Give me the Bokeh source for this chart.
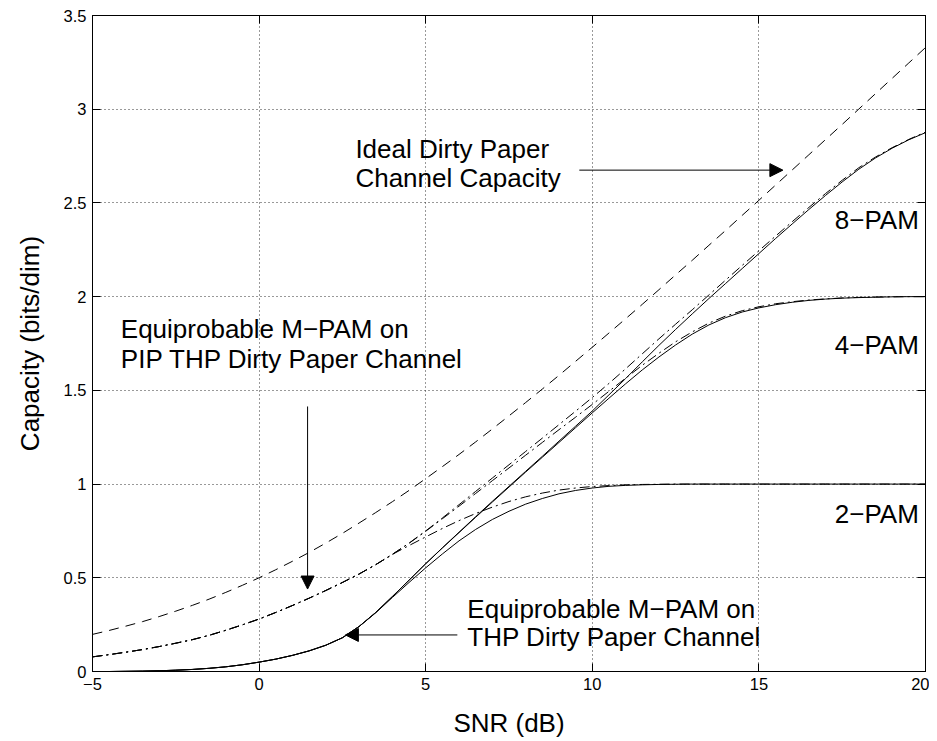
from bokeh.plotting import figure
from bokeh.models import LinearAxis, FixedTicker, Range1d, Label, Arrow, NormalHead
from bokeh.embed import file_html
from bokeh.resources import INLINE

# ---------------- data ----------------
snr_db = [-5.0, -4.5, -4.0, -3.5, -3.0, -2.5, -2.0, -1.5, -1.0, -0.5,
          0.0, 0.5, 1.0, 1.5, 2.0, 2.5, 3.0, 3.5, 4.0, 4.5,
          5.0, 5.5, 6.0, 6.5, 7.0, 7.5, 8.0, 8.5, 9.0, 9.5,
          10.0, 10.5, 11.0, 11.5, 12.0, 12.5, 13.0, 13.5, 14.0, 14.5,
          15.0, 15.5, 16.0, 16.5, 17.0, 17.5, 18.0, 18.5, 19.0, 19.5,
          20.0]

ideal_capacity = [0.198, 0.219, 0.242, 0.266, 0.293, 0.322, 0.353, 0.386, 0.422, 0.460,
                  0.500, 0.543, 0.588, 0.635, 0.685, 0.737, 0.792, 0.848, 0.906, 0.966,
                  1.029, 1.093, 1.158, 1.225, 1.294, 1.364, 1.435, 1.507, 1.580, 1.655,
                  1.730, 1.806, 1.882, 1.959, 2.037, 2.116, 2.194, 2.274, 2.353, 2.434,
                  2.514, 2.595, 2.676, 2.757, 2.838, 2.919, 3.001, 3.083, 3.165, 3.247,
                  3.329]

thp_8pam = [0.000, 0.000, 0.001, 0.002, 0.004, 0.007, 0.011, 0.017, 0.025, 0.036,
            0.050, 0.066, 0.086, 0.110, 0.140, 0.180, 0.240, 0.315, 0.400, 0.487,
            0.575, 0.660, 0.743, 0.826, 0.908, 0.988, 1.068, 1.148, 1.229, 1.309,
            1.390, 1.476, 1.563, 1.652, 1.740, 1.825, 1.908, 1.990, 2.070, 2.150,
            2.230, 2.310, 2.388, 2.465, 2.540, 2.612, 2.680, 2.740, 2.792, 2.837,
            2.875]

thp_4pam = [0.000, 0.000, 0.001, 0.002, 0.004, 0.007, 0.011, 0.017, 0.025, 0.036,
            0.050, 0.066, 0.086, 0.110, 0.140, 0.180, 0.240, 0.315, 0.400, 0.487,
            0.575, 0.659, 0.741, 0.823, 0.904, 0.984, 1.064, 1.143, 1.222, 1.301,
            1.380, 1.458, 1.535, 1.609, 1.678, 1.742, 1.800, 1.849, 1.888, 1.918,
            1.940, 1.957, 1.970, 1.980, 1.987, 1.992, 1.995, 1.997, 1.999, 2.000,
            2.000]

thp_2pam = [0.000, 0.000, 0.001, 0.002, 0.004, 0.007, 0.011, 0.017, 0.025, 0.036,
            0.050, 0.066, 0.086, 0.110, 0.140, 0.180, 0.240, 0.313, 0.395, 0.475,
            0.553, 0.627, 0.697, 0.758, 0.811, 0.855, 0.893, 0.923, 0.948, 0.966,
            0.979, 0.988, 0.993, 0.996, 0.998, 0.999, 1.000, 1.000, 1.000, 1.000,
            1.000, 1.000, 1.000, 1.000, 1.000, 1.000, 1.000, 1.000, 1.000, 1.000,
            1.000]

pip_8pam = [0.078, 0.090, 0.103, 0.117, 0.133, 0.151, 0.170, 0.193, 0.220, 0.249,
            0.280, 0.315, 0.352, 0.391, 0.432, 0.475, 0.520, 0.570, 0.625, 0.685,
            0.750, 0.819, 0.890, 0.961, 1.032, 1.103, 1.174, 1.245, 1.317, 1.389,
            1.462, 1.537, 1.615, 1.695, 1.775, 1.853, 1.930, 2.009, 2.088, 2.167,
            2.245, 2.323, 2.400, 2.476, 2.550, 2.621, 2.688, 2.745, 2.795, 2.839,
            2.878]

pip_4pam = [0.078, 0.090, 0.103, 0.117, 0.133, 0.151, 0.170, 0.193, 0.220, 0.249,
            0.280, 0.315, 0.352, 0.391, 0.432, 0.475, 0.520, 0.570, 0.625, 0.684,
            0.748, 0.815, 0.882, 0.950, 1.018, 1.086, 1.154, 1.222, 1.290, 1.357,
            1.425, 1.495, 1.565, 1.634, 1.698, 1.759, 1.812, 1.859, 1.896, 1.925,
            1.946, 1.962, 1.973, 1.982, 1.988, 1.993, 1.996, 1.998, 1.999, 2.000,
            2.000]

pip_2pam = [0.078, 0.090, 0.103, 0.117, 0.133, 0.151, 0.170, 0.193, 0.220, 0.249,
            0.280, 0.315, 0.352, 0.391, 0.432, 0.475, 0.520, 0.570, 0.625, 0.672,
            0.718, 0.763, 0.805, 0.843, 0.877, 0.907, 0.932, 0.952, 0.968, 0.979,
            0.987, 0.992, 0.996, 0.998, 0.999, 1.000, 1.000, 1.000, 1.000, 1.000,
            1.000, 1.000, 1.000, 1.000, 1.000, 1.000, 1.000, 1.000, 1.000, 1.000,
            1.000]

x_ticks = [-5, 0, 5, 10, 15, 20]
x_tick_labels = ["\u22125", "0", "5", "10", "15", "20"]
y_ticks = [0, 0.5, 1, 1.5, 2, 2.5, 3, 3.5]
y_tick_labels = ["0", "0.5", "1", "1.5", "2", "2.5", "3", "3.5"]

FONT = "Liberation Sans"
ANN = "26px"

# ---------------- figure ----------------
p = figure(width=929, height=740, x_range=Range1d(-5, 20), y_range=Range1d(0, 3.5),
           output_backend="svg", toolbar_location=None,
           min_border_left=92, min_border_right=4, min_border_top=15, min_border_bottom=67,
           x_axis_label="SNR (dB)", y_axis_label="Capacity (bits/dim)")
p.outline_line_color = "black"
p.background_fill_color = "white"
p.border_fill_color = "white"

for ax, ticks, labels in ((p.xaxis[0], x_ticks, x_tick_labels), (p.yaxis[0], y_ticks, y_tick_labels)):
    ax.ticker = FixedTicker(ticks=ticks)
    ax.major_label_overrides = {t: l for t, l in zip(ticks, labels)}
    ax.major_tick_in = 8
    ax.major_tick_out = 0
    ax.minor_tick_line_color = None
    ax.axis_line_color = "black"
    ax.major_tick_line_color = "black"
    ax.major_label_text_font = FONT
    ax.major_label_text_font_size = "16.5px"
    ax.major_label_text_color = "black"
    ax.axis_label_text_font = FONT
    ax.axis_label_text_font_size = "26px"
    ax.axis_label_text_font_style = "normal"
    ax.axis_label_text_color = "black"

p.xaxis.major_label_standoff = 6
p.xaxis.axis_label_standoff = 15
p.yaxis.major_label_standoff = 6
p.yaxis.axis_label_standoff = 16

for ticks, loc in ((x_ticks, "above"), (y_ticks, "right")):
    ax = LinearAxis(ticker=FixedTicker(ticks=ticks), major_label_text_font_size="0px",
                    major_label_text_color=None, major_label_standoff=0,
                    major_tick_in=8, major_tick_out=0, minor_tick_line_color=None,
                    axis_line_color="black", major_tick_line_color="black")
    p.add_layout(ax, loc)

p.xgrid.ticker = FixedTicker(ticks=x_ticks)
p.ygrid.ticker = FixedTicker(ticks=y_ticks)
for g in (p.xgrid[0], p.ygrid[0]):
    g.grid_line_color = "#333333"
    g.grid_line_dash = "1 3"
    g.grid_line_width = 1

# ---------------- curves ----------------
p.line(snr_db, ideal_capacity, line_color="black", line_width=1, line_dash="10 7")
for s in (thp_2pam, thp_4pam, thp_8pam):
    p.line(snr_db, s, line_color="black", line_width=1)
for s in (pip_2pam, pip_4pam, pip_8pam):
    p.line(snr_db, s, line_color="black", line_width=1, line_dash="10 4 2 4")

# ---------------- annotations ----------------
def label(x, y, text, align="left"):
    p.add_layout(Label(x=x, y=y, text=text, text_font=FONT, text_font_size=ANN,
                       text_color="black", text_align=align, text_baseline="alphabetic"))

def arrow(x0, y0, x1, y1):
    p.add_layout(Arrow(end=NormalHead(size=13, fill_color="black", line_color="black"),
                       x_start=x0, y_start=y0, x_end=x1, y_end=y1,
                       line_color="black", line_width=1))

label(2.89, 2.787, "Ideal Dirty Paper")
label(2.89, 2.633, "Channel Capacity")
arrow(9.61, 2.675, 15.72, 2.675)

label(19.80, 2.408, "8\u2212PAM", "right")
label(19.80, 1.744, "4\u2212PAM", "right")
label(19.80, 0.839, "2\u2212PAM", "right")

label(-4.15, 1.829, "Equiprobable M\u2212PAM on")
label(-4.15, 1.669, "PIP THP Dirty Paper Channel")
arrow(1.455, 1.414, 1.455, 0.44)

label(6.25, 0.334, "Equiprobable M\u2212PAM on")
label(6.25, 0.184, "THP Dirty Paper Channel")
arrow(5.95, 0.195, 2.59, 0.195)

open("out.html", "w").write(file_html(p, INLINE))
